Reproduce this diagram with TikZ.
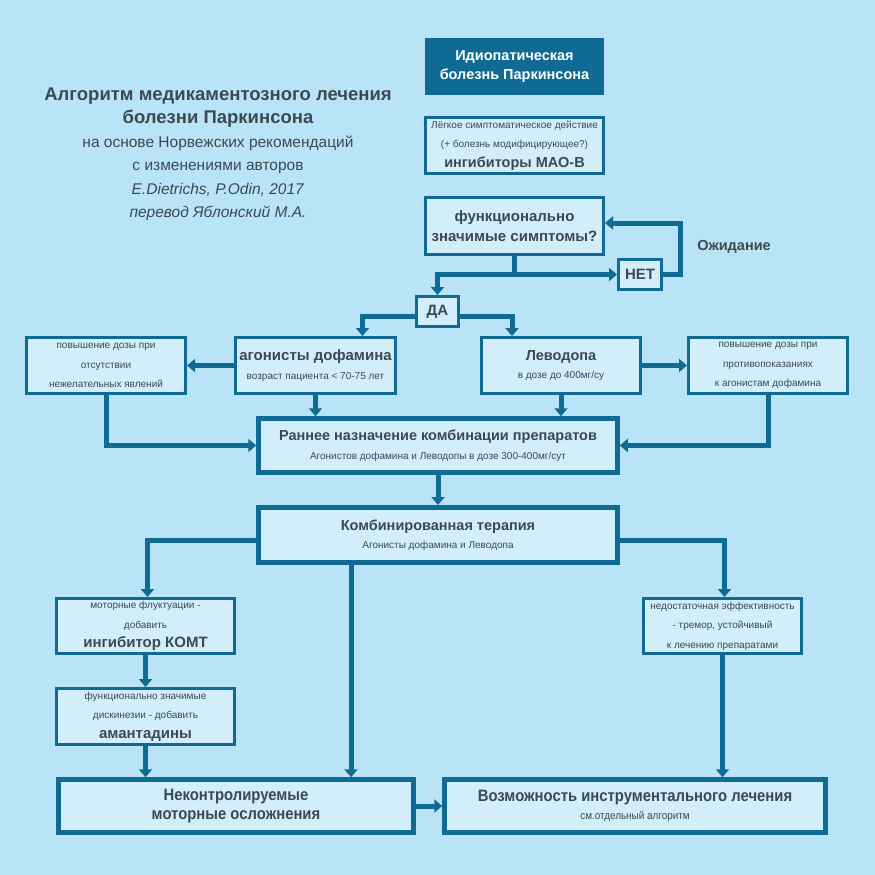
\documentclass[tikz,border=0pt]{standalone}
\usepackage{fontspec}
\setmainfont{Liberation Sans}
\newfontfamily\narrowfont[FakeStretch=0.9]{Liberation Sans}
\usepackage{xcolor}
\usetikzlibrary{arrows.meta, positioning, calc}
\definecolor{bgcolor}{RGB}{185,228,248}
\definecolor{boxfill}{RGB}{210,238,251}
\definecolor{boxline}{RGB}{15,106,148}
\definecolor{textcolor}{RGB}{59,74,80}
\newcommand{\hdr}[1]{{\fontsize{14.5}{19}\selectfont\bfseries #1}}
\begin{document}
\begin{tikzpicture}[
    x=1pt, y=-1pt,
    infobox/.style={draw=boxline, line width=3pt, fill=boxfill, inner sep=0pt, align=center, text=textcolor, font=\fontsize{10}{19.5}\selectfont},
    bigbox/.style={infobox, line width=#1},
    link/.style={draw=boxline, line width=5pt},
    arrow/.style={link, -{Triangle[length=8pt,width=13pt]}}
]
    % background and page size
    \fill[bgcolor] (0,0) rectangle (875,875);
    \useasboundingbox (0,0) rectangle (875,875);

    % title block
    \node[text=textcolor, align=center, font=\fontsize{15.5}{23.5}\selectfont] (title) at (218,154) {{\fontsize{18.5}{23.5}\selectfont\bfseries Алгоритм медикаментозного лечения}\\{\fontsize{18.5}{23.5}\selectfont\bfseries болезни Паркинсона}\\на основе Норвежских рекомендаций\\с изменениями авторов\\\textit{E.Dietrichs, P.Odin, 2017}\\\textit{перевод Яблонский М.А.}};

    % top column
    \node[fill=boxline, text=white, align=center, inner sep=0pt, minimum width=179pt, minimum height=57pt, font=\fontsize{14.5}{19}\selectfont\bfseries] (idio) at (514.5,66.5) {Идиопатическая\\болезнь Паркинсона};
    \node[infobox, minimum width=178pt, minimum height=56pt] (maob) at (514.5,145.5) {Лёгкое симптоматическое действие\\(+ болезнь модифицирующее?)\\\hdr{ингибиторы МАО-B}};
    \node[infobox, minimum width=178pt, minimum height=57pt, font=\fontsize{15}{20}\selectfont\bfseries] (symp) at (514.5,226) {функционально\\значимые симптомы?};
    \node[infobox, minimum width=43pt, minimum height=30pt, font=\fontsize{15}{18}\selectfont\bfseries] (net) at (640,274.5) {НЕТ};
    \node[text=textcolor, font=\fontsize{14.5}{18}\selectfont\bfseries] (wait) at (734,247) {Ожидание};
    \node[infobox, minimum width=42pt, minimum height=30pt, font=\fontsize{15}{18}\selectfont\bfseries] (da) at (437.5,311.5) {ДА};

    % first line of treatment
    \node[infobox, minimum width=160pt, minimum height=56pt] (agon) at (315.5,365.5) {{\fontsize{15}{19}\selectfont\bfseries агонисты дофамина}\\[-1pt]возраст пациента < 70-75 лет};
    \node[infobox, minimum width=159pt, minimum height=56pt] (levo) at (561,365.5) {\hdr{Леводопа}\\[-1pt]в дозе до 400мг/су};
    \node[infobox, minimum width=159pt, minimum height=56pt] (incleft) at (106,365.5) {повышение дозы при\\отсутствии\\нежелательных явлений};
    \node[infobox, minimum width=159pt, minimum height=56pt] (incright) at (768,365.5) {повышение дозы при\\противопоказаниях\\к агонистам дофамина};

    % combination
    \node[bigbox=4.5pt, minimum width=359pt, minimum height=54pt] (early) at (438,445.5) {\hdr{Раннее назначение комбинации препаратов}\\[-1pt]Агонистов дофамина и Леводопы в дозе 300-400мг/сут};
    \node[bigbox=5pt, minimum width=359pt, minimum height=55pt] (combo) at (438,535) {\hdr{Комбинированная терапия}\\[-1pt]Агонисты дофамина и Леводопа};

    % complications
    \node[infobox, minimum width=178pt, minimum height=55pt] (fluct) at (145.5,626) {моторные флуктуации -\\добавить\\{\fontsize{15}{19}\selectfont\bfseries ингибитор КОМТ}};
    \node[infobox, minimum width=178pt, minimum height=56pt] (dysk) at (145.5,716.5) {функционально значимые\\дискинезии - добавить\\{\fontsize{15}{19}\selectfont\bfseries амантадины}};
    \node[infobox, minimum width=158pt, minimum height=55pt] (tremor) at (722.5,626) {недостаточная эффективность\\- тремор, устойчивый\\к лечению препаратами};
    \node[bigbox=4.5pt, minimum width=355pt, minimum height=53pt, font=\narrowfont\fontsize{16.5}{19.5}\selectfont\bfseries] (uncon) at (236,806) {Неконтролируемые\\моторные осложнения};
    \node[bigbox=4.5pt, minimum width=381pt, minimum height=53pt, font=\narrowfont\fontsize{11}{19}\selectfont] (surg) at (635,806) {{\fontsize{16.5}{19}\selectfont\bfseries Возможность инструментального лечения}\\[-1pt]см.отдельный алгоритм};

    % connectors
    \draw[link] (symp.south) -- (symp.south |- net.west);
    \draw[arrow] (symp.south |- net.west) -- (net.west);
    \draw[arrow] (symp.south |- net.west) -| (da.north);
    \draw[arrow] (net.east) -- ++(17,0) |- ([yshift=3pt]symp.east);
    \draw[arrow] ([yshift=-5pt]da.west) -| ([xshift=47pt]agon.north);
    \draw[arrow] ([yshift=-5pt]da.east) -| ([xshift=-49pt]levo.north);
    \draw[arrow] (agon.west) -- (incleft.east);
    \draw[arrow] (levo.east) -- (incright.west);
    \draw[arrow] (agon.south) -- (agon.south |- early.north);
    \draw[arrow] (levo.south) -- (levo.south |- early.north);
    \draw[arrow] (incleft.south) |- (early.west);
    \draw[arrow] (incright.south) |- (early.east);
    \draw[arrow] (early.south) -- (combo.north);
    \draw[arrow] ([yshift=-5pt]combo.west) -| ([xshift=2pt]fluct.north);
    \draw[arrow] ([yshift=-5pt]combo.east) -| ([xshift=2pt]tremor.north);
    \draw[arrow] ([xshift=-87pt]combo.south) -- ([xshift=-87pt]combo.south |- uncon.north);
    \draw[arrow] (fluct.south) -- (dysk.north);
    \draw[arrow] (dysk.south) -- (dysk.south |- uncon.north);
    \draw[arrow] (tremor.south) -- (tremor.south |- surg.north);
    \draw[arrow] (uncon.east) -- (surg.west);
\end{tikzpicture}
\end{document}
